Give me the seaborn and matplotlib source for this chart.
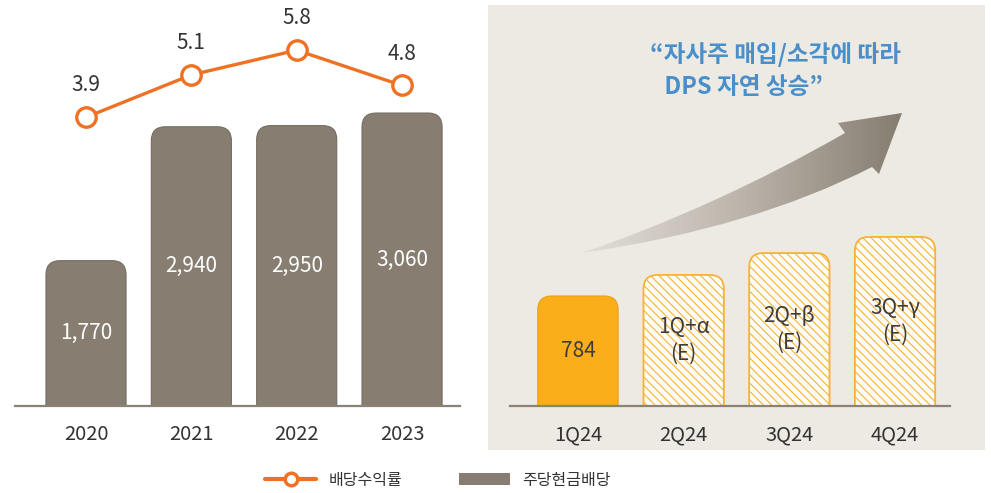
import numpy as np
import matplotlib
matplotlib.use("Agg")
import matplotlib.pyplot as plt
import seaborn as sns
from matplotlib.patches import FancyBboxPatch, Rectangle, PathPatch, Patch
from matplotlib.path import Path
from matplotlib.lines import Line2D
from matplotlib.colors import LinearSegmentedColormap

# 데이터
years = ["2020", "2021", "2022", "2023"]
dps = [1770, 2940, 2950, 3060]          # 주당현금배당 (원)
dps_labels = ["1,770", "2,940", "2,950", "3,060"]
yield_pct = [3.9, 5.1, 5.8, 4.8]        # 배당수익률 (%)

quarters = ["1Q24", "2Q24", "3Q24", "4Q24"]
q_heights = [784, 934, 1090, 1205]      # 2Q~4Q는 추정치 (막대 높이만 표현)
q_labels = ["784", "1Q+α\n(E)", "2Q+β\n(E)", "3Q+γ\n(E)"]

BAR_GRAY = "#877E71"
ORANGE = "#EE7124"
GOLD = "#F9AE1A"
HATCH = "#F6B234"
PANEL = "#EDEAE4"
TXT = "#333333"

sns.set_style("white")
plt.rcParams["font.family"] = ["Noto Sans CJK KR", "DejaVu Sans"]
plt.rcParams["hatch.linewidth"] = 0.8

W, H = 991, 493
fig = plt.figure(figsize=(W / 100, H / 100), dpi=100)


def px_box(x0, y_top, x1, y_bot):
    return [x0 / W, 1 - y_bot / H, (x1 - x0) / W, (y_bot - y_top) / H]


# 배경 레이어 (오른쪽 패널 + 화살표)
bg = fig.add_axes([0, 0, 1, 1], zorder=0)
bg.set_xlim(0, W)
bg.set_ylim(H, 0)
bg.axis("off")
bg.add_patch(Rectangle((488, 5), 497, 445, color=PANEL, lw=0, zorder=0.5))

# 곡선 화살표 (그라데이션)
verts = [(582, 253), (716, 207), (845, 133), (838, 123), (902, 113),
         (879, 174), (872, 167), (753, 228), (582, 253), (582, 253)]
codes = [Path.MOVETO, Path.CURVE3, Path.CURVE3, Path.LINETO, Path.LINETO,
         Path.LINETO, Path.LINETO, Path.CURVE3, Path.CURVE3, Path.CLOSEPOLY]
arrow = PathPatch(Path(verts, codes), facecolor="none", edgecolor="none")
bg.add_patch(arrow)
cmap = LinearSegmentedColormap.from_list("arr", ["#E4E0DA", "#BDB5AC", "#857C70"])
grad = bg.imshow(np.linspace(0, 1, 256)[None, :], cmap=cmap, aspect="auto",
                 extent=(575, 905, 260, 108), interpolation="bicubic", zorder=2)
grad.set_clip_path(arrow)
bg.set_xlim(0, W)
bg.set_ylim(H, 0)

bg.text(650, 55, "“자사주 매입/소각에 따라", color="#4A8FC9", fontsize=17,
        fontweight="bold", ha="left", va="center", zorder=3)
bg.text(659, 87, " DPS 자연 상승”", color="#4A8FC9", fontsize=17,
        fontweight="bold", ha="left", va="center", zorder=3)


def round_bars(ax, r_px, styles):
    p0 = ax.transData.transform((0, 0))
    p1 = ax.transData.transform((1, 1))
    rx = r_px / (p1[0] - p0[0])
    ry = r_px / (p1[1] - p0[1])
    bars = list(ax.patches)
    for bar, st in zip(bars, styles):
        x, y, w, h = bar.get_x(), bar.get_y(), bar.get_width(), bar.get_height()
        bar.remove()
        ax.add_patch(FancyBboxPatch((x, y - ry), w, h + ry,
                                    boxstyle=f"round,pad=0,rounding_size={rx}",
                                    mutation_aspect=ry / rx, zorder=2, **st))


def style_axis(ax, xlim):
    ax.set_facecolor("none")
    ax.set_xlim(*xlim)
    for s in ["top", "right", "left"]:
        ax.spines[s].set_visible(False)
    ax.spines["bottom"].set_color("#8A8276")
    ax.spines["bottom"].set_linewidth(1.6)
    ax.set_yticks([])
    ax.set_xlabel("")
    ax.set_ylabel("")
    ax.tick_params(axis="x", length=0, pad=13, labelsize=14.5, labelcolor=TXT)


# 왼쪽: 주당현금배당 + 배당수익률
ax = fig.add_axes(px_box(15, 5, 460, 406), zorder=2)
sns.barplot(x=years, y=dps, ax=ax, color=BAR_GRAY, width=0.76, saturation=1)
style_axis(ax, (-0.674, 3.55))
ax.set_ylim(500, 4004)
round_bars(ax, 14, [dict(facecolor=BAR_GRAY, edgecolor="#746C60", lw=0.8)] * 4)
for i, (v, lab) in enumerate(zip(dps, dps_labels)):
    ax.text(i, (500 + v) / 2, lab, color="white", fontsize=15,
            ha="center", va="center", zorder=3)

ax2 = ax.twinx()
ax2.set_zorder(3)
sns.lineplot(x=np.arange(len(years)), y=yield_pct, ax=ax2, color=ORANGE, lw=2.4,
             marker="o", markersize=14, markerfacecolor="white",
             markeredgecolor=ORANGE, markeredgewidth=2.4)
ax2.set_ylim(-4.28, 7.08)
ax2.set_xlim(-0.674, 3.55)
ax2.axis("off")
for i, v in enumerate(yield_pct):
    ax2.annotate(f"{v:.1f}", (i, v), xytext=(0, 23), textcoords="offset points",
                 ha="center", va="center", fontsize=15, color=TXT)

# 오른쪽: 분기 DPS
axr = fig.add_axes(px_box(510, 5, 950, 406), zorder=2)
sns.barplot(x=quarters, y=q_heights, ax=axr, color=GOLD, width=0.76, saturation=1)
style_axis(axr, (-0.643, 3.52))
axr.set_ylim(0, 2858)
styles = [dict(facecolor=GOLD, edgecolor="#E9A012", lw=0.8)]
styles += [dict(facecolor="#FFFDF7", edgecolor=HATCH, lw=1.3, hatch="\\\\\\\\")] * 3
round_bars(axr, 14, styles)
for i, (v, lab) in enumerate(zip(q_heights, q_labels)):
    axr.text(i, v / 2, lab, color="#3C3C3C", fontsize=15, ha="center",
             va="center", linespacing=1.25, zorder=3)

# 범례
handles = [Line2D([], [], color=ORANGE, lw=3, marker="o", markersize=9,
                  markerfacecolor="white", markeredgecolor=ORANGE, markeredgewidth=2.5),
           Patch(facecolor=BAR_GRAY, edgecolor="none")]
fig.legend(handles, ["배당수익률", "주당현금배당"], loc="center",
           bbox_to_anchor=(0.442, 0.026), ncol=2, frameon=False, fontsize=11.5,
           handlelength=3.2, handleheight=0.8, handletextpad=0.8, columnspacing=3.5,
           labelcolor=TXT)

fig.savefig("out.png", dpi=100)
